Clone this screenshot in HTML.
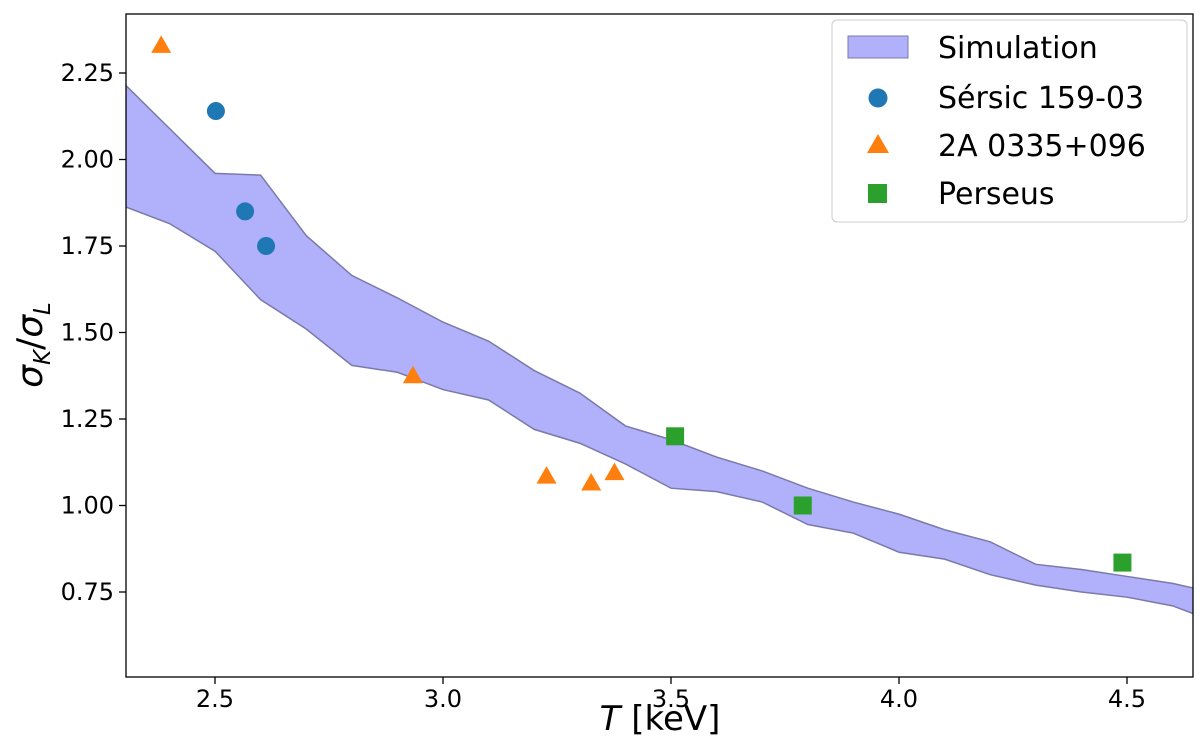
<!DOCTYPE html>
<html><head><meta charset="utf-8"><style>
body{margin:0;background:#fff;}
svg{display:block;font-family:"DejaVu Sans","Liberation Sans",sans-serif;}
</style></head><body>
<svg id="chart" width="1200" height="741">
<defs><clipPath id="pa"><rect x="126" y="14" width="1067" height="663"/></clipPath></defs>
<g id="band" clip-path="url(#pa)"></g>
<g id="pts"></g>
<rect x="126" y="14" width="1067" height="663" fill="none" stroke="#000" stroke-width="1.3"/>
<g id="axes"></g>
<text x="660" y="730" font-size="34" text-anchor="middle"><tspan font-style="italic">T</tspan> [keV]</text>
<text transform="translate(42,345) rotate(-90)" font-size="36" text-anchor="middle"><tspan font-style="italic">σ</tspan><tspan font-size="23" font-style="italic" dy="8">K</tspan><tspan dy="-8">/</tspan><tspan font-style="italic">σ</tspan><tspan font-size="23" font-style="italic" dy="8">L</tspan></text>
<g>
<rect x="832" y="20" width="355" height="202" rx="5" fill="#fff" fill-opacity="0.85" stroke="#ccc"/>
<rect x="848" y="36" width="60" height="22" fill="#b0b0fb" stroke="#7a7aa8"/>
<text x="938" y="58" font-size="30">Simulation</text>
<circle cx="878" cy="98" r="9.5" fill="#1f77b4"/>
<text x="938" y="108" font-size="30">Sérsic 159-03</text>
<polygon points="878,134 889,153 867,153" fill="#ff7f0e"/>
<text x="938" y="156" font-size="30">2A 0335+096</text>
<rect x="868" y="184" width="19" height="19" fill="#2ca02c"/>
<text x="938" y="204" font-size="30">Perseus</text>
</g>
</svg>
<script>
const bandT=[2.3,2.4,2.5,2.6,2.7,2.8,2.9,3.0,3.1,3.2,3.3,3.4,3.5,3.6,3.7,3.8,3.9,4.0,4.1,4.2,4.3,4.4,4.5,4.6,4.7];
const bandUpper=[2.22,2.09,1.96,1.955,1.78,1.665,1.60,1.53,1.475,1.39,1.325,1.23,1.19,1.14,1.10,1.05,1.01,0.975,0.93,0.895,0.83,0.815,0.795,0.775,0.745];
const bandLower=[1.865,1.815,1.735,1.595,1.51,1.405,1.385,1.335,1.305,1.22,1.18,1.12,1.05,1.04,1.01,0.945,0.92,0.865,0.845,0.80,0.77,0.75,0.735,0.71,0.66];
const sersicT=[2.502,2.566,2.612], sersicR=[2.14,1.85,1.75];
const a2T=[2.382,2.934,3.227,3.325,3.376], a2R=[2.33,1.375,1.085,1.065,1.095];
const perT=[3.509,3.789,4.49], perR=[1.20,1.00,0.835];
const xTicks=[2.5,3.0,3.5,4.0,4.5], yTicks=[0.75,1.00,1.25,1.50,1.75,2.00,2.25];
const X=v=>215+(v-2.5)*456, Y=v=>592-(v-0.75)*346;
const NS="http://www.w3.org/2000/svg";
function mk(t,a,p){const e=document.createElementNS(NS,t);for(const k in a)e.setAttribute(k,a[k]);p.appendChild(e);return e;}
const band=document.getElementById('band');
let d=bandT.map((t,i)=>(i?'L':'M')+X(t)+','+Y(bandUpper[i])).join('');
for(let i=bandT.length-1;i>=0;i--)d+='L'+X(bandT[i])+','+Y(bandLower[i]);
const b=mk('path',{d:d+'Z',fill:'#b0b0fb',stroke:'#7a7aa8','stroke-width':1.5},band);


const pts=document.getElementById('pts');
sersicT.forEach((t,i)=>{const c=mk('circle',{cx:X(t),cy:Y(sersicR[i]),r:9,fill:'#1f77b4'},pts);

});
a2T.forEach((t,i)=>{const x=X(t),y=Y(a2R[i]);const c=mk('polygon',{points:`${x},${y-10} ${x+10},${y+7.5} ${x-10},${y+7.5}`,fill:'#ff7f0e'},pts);

});
perT.forEach((t,i)=>{const c=mk('rect',{x:X(t)-9,y:Y(perR[i])-9,width:18,height:18,fill:'#2ca02c'},pts);

});
const ax=document.getElementById('axes');
xTicks.forEach(v=>{mk('line',{x1:X(v),x2:X(v),y1:677,y2:684,stroke:'#000','stroke-width':1.3},ax);
const t=mk('text',{x:X(v),y:707,'font-size':24,'text-anchor':'middle'},ax);t.textContent=v.toFixed(1);

});
yTicks.forEach(v=>{mk('line',{x1:119,x2:126,y1:Y(v),y2:Y(v),stroke:'#000','stroke-width':1.3},ax);
const t=mk('text',{x:114,y:Y(v)+8,'font-size':24,'text-anchor':'end'},ax);t.textContent=v.toFixed(2);

});
</script>
</body></html>
